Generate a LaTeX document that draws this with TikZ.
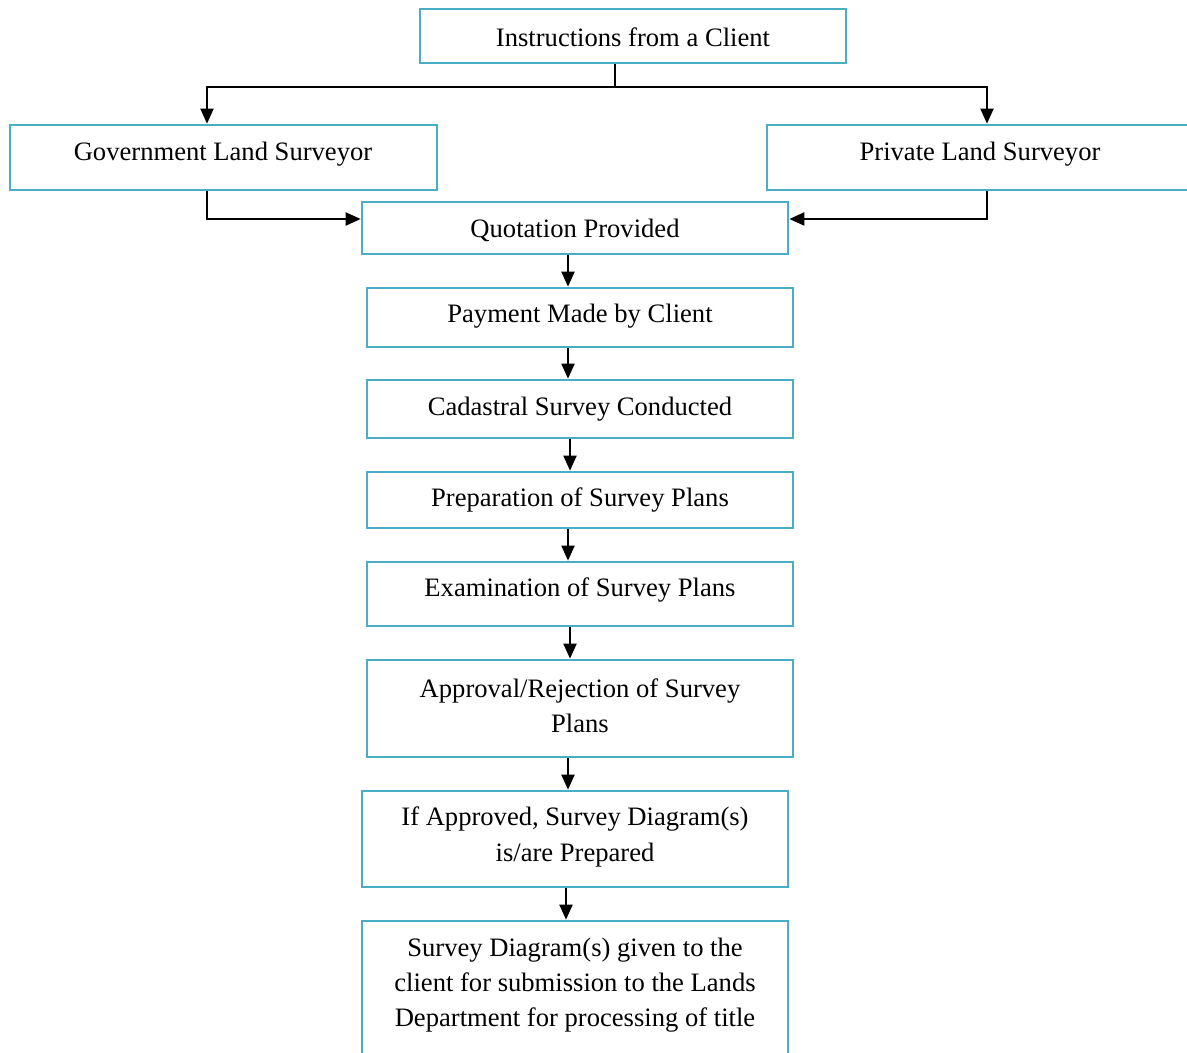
\documentclass[tikz,border=0pt]{standalone}
\usepackage{fontspec}
\setmainfont{Liberation Serif}
\usetikzlibrary{arrows.meta}
\definecolor{boxblue}{RGB}{75,172,198}
\tikzset{
  box/.style={draw=boxblue, line width=1.35pt, fill=white, inner sep=0pt},
  lbl/.style={font=\fontsize{13.3}{17.6}\selectfont, align=center, inner sep=0pt, text=black},
  arr/.style={draw=black, line width=1pt, -{Triangle[length=7.5pt,width=6.5pt]}},
}
\newcommand{\mybox}[6]{% name, x1, y1, x2, y2, (unused)
  \node[box, minimum width={(#4-#2)*0.5pt}, minimum height={(#5-#3)*0.5pt}] (#1) at ({(#2+#4)/2},{(#3+#5)/2}) {};
}
\begin{document}
\begin{tikzpicture}[x=0.5pt, y=-0.5pt]
\useasboundingbox (0,0) rectangle (1187,1053);
\clip (0,0) rectangle (1187,1053);
\fill[white] (0,0) rectangle (1187,1053);

% boxes
\mybox{instr}{420}{9}{846}{63}{}
\mybox{gov}{10}{125}{437}{190}{}
\mybox{priv}{767}{125}{1195}{190}{}
\mybox{quot}{362}{202}{788}{254}{}
\mybox{pay}{367}{288}{793}{347}{}
\mybox{cad}{367}{380}{793}{438}{}
\mybox{prep}{367}{472}{793}{528}{}
\mybox{exam}{367}{562}{793}{626}{}
\mybox{appr}{367}{660}{793}{757}{}
\mybox{ifap}{362}{791}{788}{887}{}
\mybox{diag}{362}{921}{788}{1080}{}

% texts
\node[lbl] (tinstr) at (633,37) {Instructions from a Client};
\node[lbl] (tgov) at (223,154) {Government Land Surveyor};
\node[lbl] (tpriv) at (980,154) {Private Land Surveyor};
\node[lbl] (tquot) at (575,230) {Quotation Provided};
\node[lbl] (tpay) at (580,316) {Payment Made by Client};
\node[lbl] (tcad) at (580,409) {Cadastral Survey Conducted};
\node[lbl] (tprep) at (580,500) {Preparation of Survey Plans};
\node[lbl] (texam) at (580,590) {Examination of Survey Plans};
\node[lbl] (tappr) at (580,706) {Approval/Rejection of Survey\\Plans};
\node[lbl] (tifap) at (575,837) {If Approved, Survey Diagram(s)\\is/are Prepared};
\node[lbl] (tdiag) at (575,985) {Survey Diagram(s) given to the\\client for submission to the Lands\\Department for processing of title};

% helper coordinates
\coordinate (split) at (615,87);
\coordinate (gx) at (207,87);
\coordinate (px) at (987,87);
\coordinate (gy) at (207,219);
\coordinate (py) at (987,219);
\coordinate (x566) at (566,0);
\coordinate (x568) at (568,0);
\coordinate (x570) at (570,0);

% connectors
\draw[line width=1pt] (instr.south -| split) -- (split);
\draw[arr] (split) -- (gx) -- (gov.north -| gx);
\draw[arr] (split) -- (px) -- (priv.north -| px);
\draw[arr] (gov.south -| gy) -- (gy) -- (quot.west |- gy);
\draw[arr] (priv.south -| py) -- (py) -- (quot.east |- py);
\draw[arr] (quot.south -| x568) -- (pay.north -| x568);
\draw[arr] (pay.south -| x568) -- (cad.north -| x568);
\draw[arr] (cad.south -| x570) -- (prep.north -| x570);
\draw[arr] (prep.south -| x568) -- (exam.north -| x568);
\draw[arr] (exam.south -| x570) -- (appr.north -| x570);
\draw[arr] (appr.south -| x568) -- (ifap.north -| x568);
\draw[arr] (ifap.south -| x566) -- (diag.north -| x566);
\end{tikzpicture}
\end{document}
